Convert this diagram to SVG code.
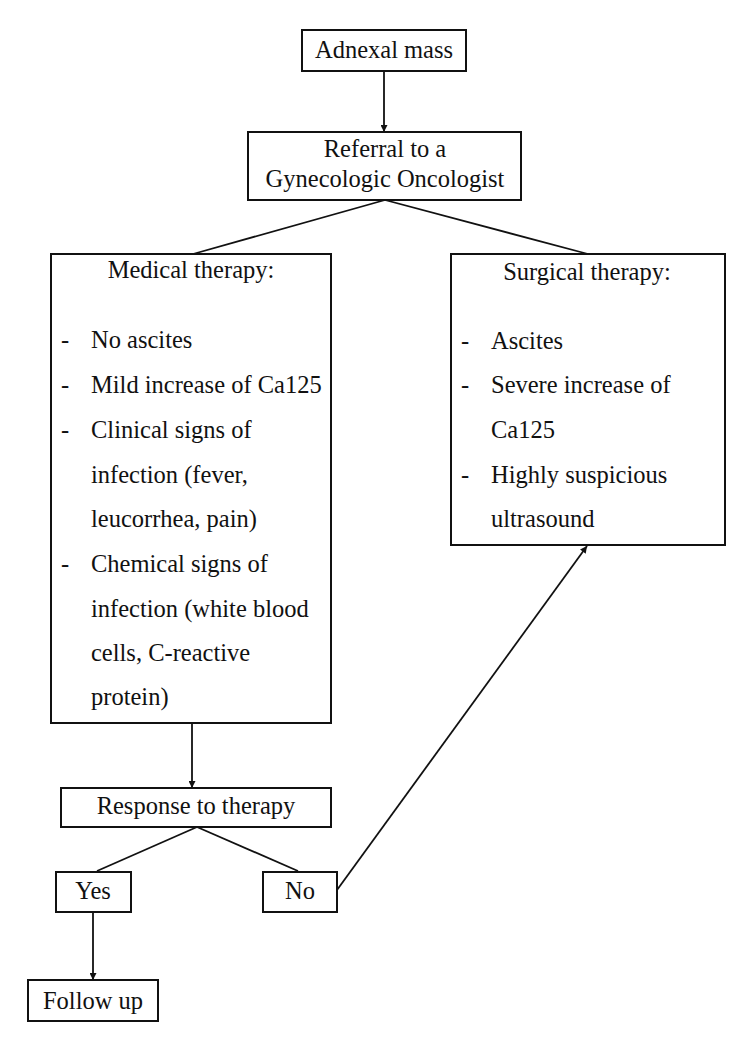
<svg xmlns="http://www.w3.org/2000/svg" width="752" height="1048" viewBox="0 0 752 1048">
<style>
.box{fill:#fff;stroke:#111;stroke-width:2}
.t{font-family:"Liberation Serif","Times New Roman",serif;font-size:24.5px;fill:#111}
.c{text-anchor:middle}
.ln{stroke:#111;stroke-width:1.8;fill:none}
</style>
<defs>
<marker id="ah" viewBox="0 0 10 10" refX="10" refY="5" markerWidth="7" markerHeight="7" markerUnits="userSpaceOnUse" orient="auto">
<path d="M0,0 L10,5 L0,10 z" fill="#111"/>
</marker>
</defs>
<rect width="752" height="1048" fill="#fff"/>
<g id="connectors">
<line class="ln" x1="384" y1="71" x2="384" y2="132" marker-end="url(#ah)"/>
<line class="ln" x1="385" y1="200" x2="193" y2="254"/>
<line class="ln" x1="385" y1="200" x2="588" y2="254"/>
<line class="ln" x1="192" y1="723" x2="192" y2="788" marker-end="url(#ah)"/>
<line class="ln" x1="197" y1="827" x2="97" y2="871"/>
<line class="ln" x1="197" y1="827" x2="298" y2="871"/>
<line class="ln" x1="93" y1="912" x2="93" y2="980" marker-end="url(#ah)"/>
<line class="ln" x1="337" y1="890" x2="587" y2="546" marker-end="url(#ah)"/>
</g>
<g id="adnexal">
<rect class="box" x="302" y="30" width="164" height="41"/>
<text class="t c" x="384" y="58">Adnexal mass</text>
</g>
<g id="referral">
<rect class="box" x="248" y="132" width="273" height="68"/>
<text class="t c" x="385" y="157">Referral to a</text>
<text class="t c" x="385" y="187">Gynecologic Oncologist</text>
</g>
<g id="medical">
<rect class="box" x="51" y="254" width="280" height="469"/>
<text class="t c" x="191" y="278">Medical therapy:</text>
<text class="t" x="61" y="348">-</text><text class="t" x="91" y="348">No ascites</text>
<text class="t" x="61" y="393">-</text><text class="t" x="91" y="393">Mild increase of Ca125</text>
<text class="t" x="61" y="438">-</text><text class="t" x="91" y="438">Clinical signs of</text>
<text class="t" x="91" y="483">infection (fever,</text>
<text class="t" x="91" y="527">leucorrhea, pain)</text>
<text class="t" x="61" y="572">-</text><text class="t" x="91" y="572">Chemical signs of</text>
<text class="t" x="91" y="617">infection (white blood</text>
<text class="t" x="91" y="661">cells, C-reactive</text>
<text class="t" x="91" y="705">protein)</text>
</g>
<g id="surgical">
<rect class="box" x="451" y="254" width="274" height="291"/>
<text class="t c" x="587" y="280">Surgical therapy:</text>
<text class="t" x="461" y="349">-</text><text class="t" x="491" y="349">Ascites</text>
<text class="t" x="461" y="393">-</text><text class="t" x="491" y="393">Severe increase of</text>
<text class="t" x="491" y="438">Ca125</text>
<text class="t" x="461" y="483">-</text><text class="t" x="491" y="483">Highly suspicious</text>
<text class="t" x="491" y="527">ultrasound</text>
</g>
<g id="response">
<rect class="box" x="61" y="788" width="270" height="39"/>
<text class="t c" x="196" y="814">Response to therapy</text>
</g>
<g id="yes">
<rect class="box" x="56" y="872" width="75" height="40"/>
<text class="t c" x="93" y="899">Yes</text>
</g>
<g id="no">
<rect class="box" x="263" y="872" width="74" height="40"/>
<text class="t c" x="300" y="899">No</text>
</g>
<g id="followup">
<rect class="box" x="28" y="980" width="130" height="41"/>
<text class="t c" x="93" y="1009">Follow up</text>
</g>
</svg>
